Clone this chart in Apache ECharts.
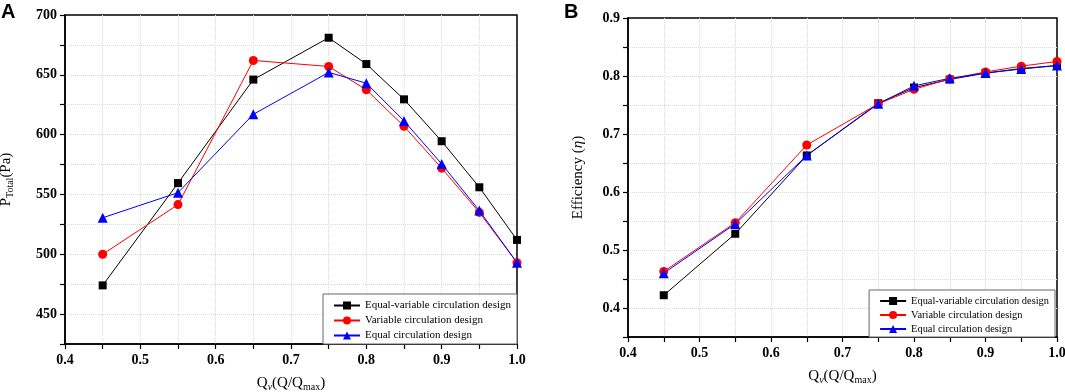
<!DOCTYPE html>
<html>
<head>
<meta charset="utf-8">
<script src="https://cdn.jsdelivr.net/npm/echarts@6/dist/echarts.min.js"></script>
<style>
  html, body { margin: 0; padding: 0; background: #fff; }
  #main { width: 1065px; height: 392px; }
</style>
</head>
<body>
<div id="main"></div>
<script>
// flow rate ratio Q/Qmax
var flowRatio = [0.45, 0.55, 0.65, 0.75, 0.8, 0.85, 0.9, 0.95, 1.0];
var seriesNames = ['Equal-variable circulation design', 'Variable circulation design', 'Equal circulation design'];

// total pressure (Pa)
var pressureEqualVariable = [474, 559.5, 646, 681, 659, 629.5, 594.5, 556, 512];
var pressureVariable = [500, 541.5, 662, 657, 637.5, 607, 572, 535, 493];
var pressureEqual = [530.5, 551.5, 617, 652, 643, 611.5, 575.5, 536.5, 493];

// efficiency
var effEqualVariable = [0.422, 0.528, 0.663, 0.753, 0.780, 0.794, 0.805, 0.813, 0.818];
var effVariable = [0.463, 0.547, 0.681, 0.752, 0.777, 0.795, 0.807, 0.817, 0.825];
var effEqual = [0.460, 0.545, 0.663, 0.752, 0.783, 0.796, 0.805, 0.812, 0.818];

function pairs(ys) {
    return flowRatio.map(function (x, i) { return [x, ys[i]]; });
}

var serif = '"Liberation Serif", "DejaVu Serif", serif';
var styles = [
    { color: '#000000', symbol: 'rect', size: 8 },
    { color: '#ff0000', symbol: 'circle', size: 9 },
    { color: '#0000ff', symbol: 'triangle', size: 10 }
];

function makeSeries(name, data, idx, axisIdx) {
    var s = styles[idx];
    return {
        name: name,
        type: 'line',
        xAxisIndex: axisIdx,
        yAxisIndex: axisIdx,
        data: pairs(data),
        symbol: s.symbol,
        symbolSize: s.size,
        itemStyle: { color: s.color },
        lineStyle: { color: s.color, width: 1 },
        silent: true,
        animation: false
    };
}

var tickLabel = { color: '#000', fontFamily: serif, fontWeight: 'bold', fontSize: 14 };
var dotted = { show: true, showMinLine: false, showMaxLine: false, lineStyle: { color: '#dcdcdc', type: 'dotted', width: 1 } };
var axisLine = { show: true, onZero: false, lineStyle: { color: '#000', width: 1.5 } };
var axisTick = { show: true, inside: false, length: 5, lineStyle: { color: '#000', width: 1.2 } };

var nameRich = {
    a: { fontFamily: serif, fontSize: 15, color: '#000' },
    i: { fontFamily: serif, fontSize: 15, color: '#000', fontStyle: 'italic' },
    sub: { fontFamily: serif, fontSize: 10, color: '#000', padding: [8, 0, 0, 0] },
    subi: { fontFamily: serif, fontSize: 10, color: '#000', fontStyle: 'italic', padding: [8, 0, 0, 0] }
};

function makeXAxis(gridIdx) {
    return {
        type: 'value',
        gridIndex: gridIdx,
        min: 0.4, max: 1.0, interval: 0.05,
        name: '{a|Q}{subi|v}{a|(Q/Q}{sub|max}{a|)}',
        nameLocation: 'middle',
        nameGap: 30,
        nameTextStyle: { rich: nameRich },
        axisLine: axisLine,
        axisTick: axisTick,
        splitLine: dotted,
        axisLabel: Object.assign({}, tickLabel, {
            margin: 9,
            formatter: function (v) {
                return Math.round(v * 100) % 10 === 0 ? v.toFixed(1) : '';
            }
        })
    };
}

function makeLegend(right, bottom, fontSize) {
    return {
        data: seriesNames,
        orient: 'vertical',
        right: right, bottom: bottom,
        itemWidth: 26, itemHeight: 10, itemGap: 4,
        padding: [6, 6, 3, 10],
        borderColor: '#666', borderWidth: 1,
        backgroundColor: '#fff',
        selectedMode: false,
        textStyle: { fontFamily: serif, fontSize: fontSize, color: '#000' }
    };
}

var option = {
    backgroundColor: '#fff',
    animation: false,
    grid: [
        { left: 65, right: 548, top: 15, bottom: 48, outerBoundsMode: 'none', containLabel: false, show: true, borderColor: '#000', borderWidth: 1.5, backgroundColor: 'transparent' },
        { left: 628, right: 8, top: 18, bottom: 55, outerBoundsMode: 'none', containLabel: false, show: true, borderColor: '#000', borderWidth: 1.5, backgroundColor: 'transparent' }
    ],
    graphic: [
        { type: 'text', left: 1, top: 2, style: { text: 'A', font: 'bold 20px "Liberation Sans", Arial, sans-serif', fill: '#000' } },
        { type: 'text', left: 564, top: 2, style: { text: 'B', font: 'bold 20px "Liberation Sans", Arial, sans-serif', fill: '#000' } }
    ],
    legend: [makeLegend(548, 48, 11), makeLegend(10, 55, 10.4)],
    xAxis: [makeXAxis(0), makeXAxis(1)],
    yAxis: [
        {
            type: 'value',
            gridIndex: 0,
            min: 425, max: 700, interval: 25,
            name: '{a|P}{sub|Total}{a|(Pa)}',
            nameLocation: 'middle',
            nameGap: 50,
            nameTextStyle: { rich: nameRich },
            axisLine: axisLine,
            axisTick: axisTick,
            splitLine: dotted,
            axisLabel: Object.assign({}, tickLabel, {
                margin: 8,
                formatter: function (v) { return v % 50 === 0 ? String(v) : ''; }
            })
        },
        {
            type: 'value',
            gridIndex: 1,
            min: 0.35, max: 0.9, interval: 0.05,
            name: '{a|Efficiency (}{i|η}{a|)}',
            nameLocation: 'middle',
            nameGap: 42,
            nameTextStyle: { rich: nameRich },
            axisLine: axisLine,
            axisTick: axisTick,
            splitLine: dotted,
            axisLabel: Object.assign({}, tickLabel, {
                margin: 8,
                formatter: function (v) {
                    return Math.round(v * 100) % 10 === 0 ? v.toFixed(1) : '';
                }
            })
        }
    ],
    series: [
        makeSeries(seriesNames[0], pressureEqualVariable, 0, 0),
        makeSeries(seriesNames[1], pressureVariable, 1, 0),
        makeSeries(seriesNames[2], pressureEqual, 2, 0),
        makeSeries(seriesNames[0], effEqualVariable, 0, 1),
        makeSeries(seriesNames[1], effVariable, 1, 1),
        makeSeries(seriesNames[2], effEqual, 2, 1)
    ]
};

var myChart = echarts.init(document.getElementById('main'), null, { renderer: 'canvas' });
myChart.setOption(option);
</script>
</body>
</html>
